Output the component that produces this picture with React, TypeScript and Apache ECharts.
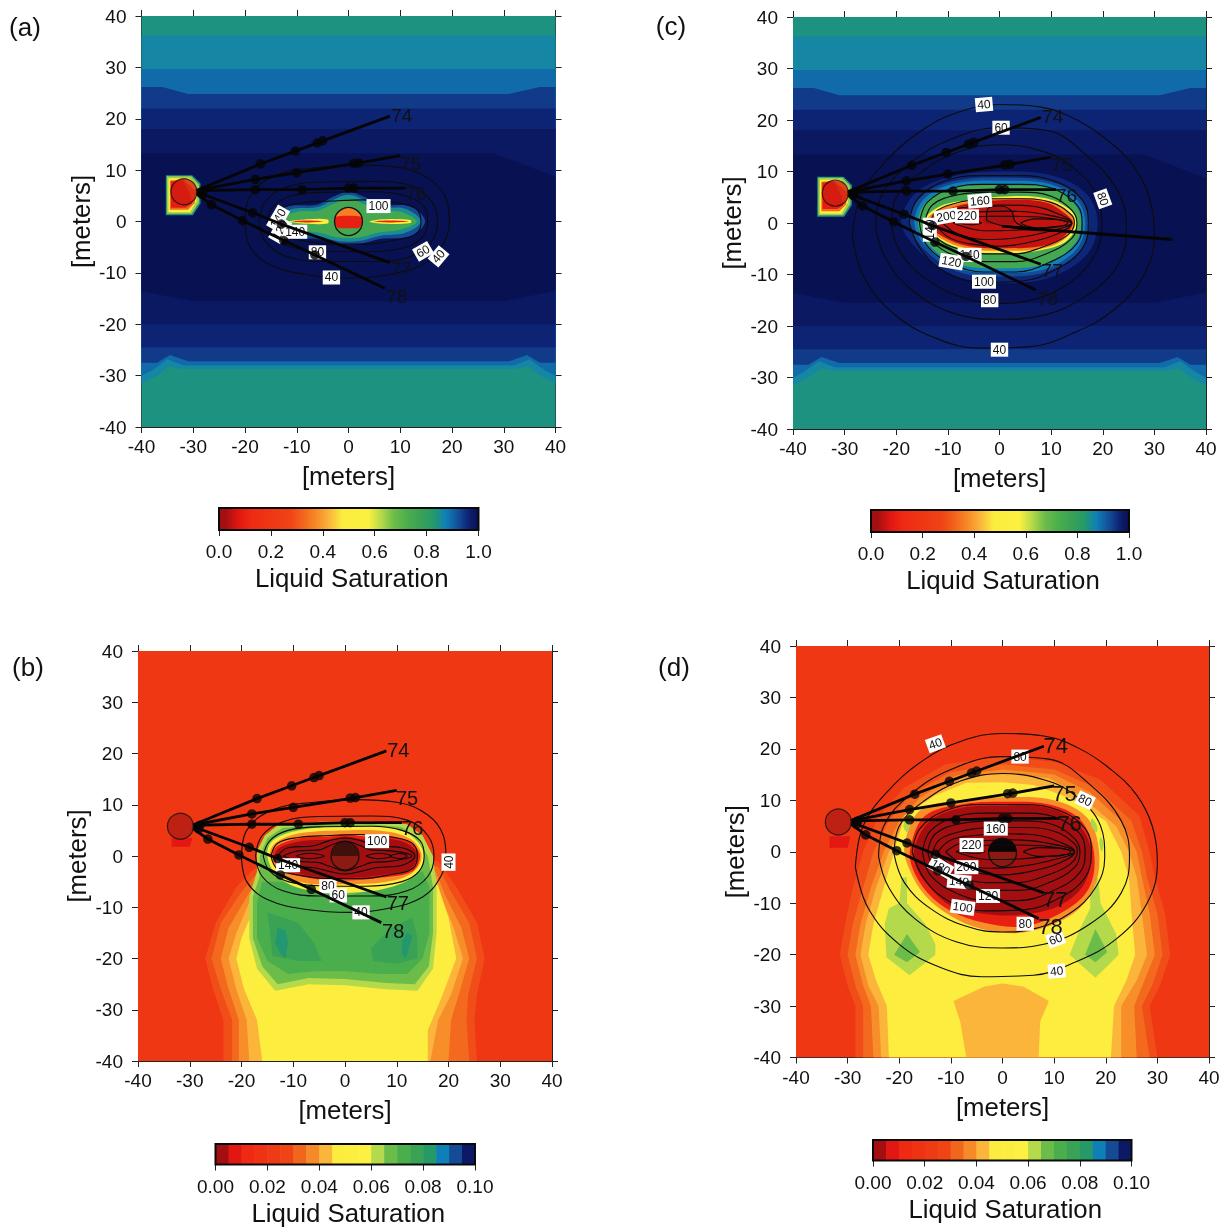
import React, { useEffect, useRef } from "react";
import * as echarts from "echarts";

type Pt = [number, number];
type Band = [number, Pt[]];
type Lab = [number, number, string, number];

const axisTicks = [-40, -30, -20, -10, 0, 10, 20, 30, 40];
const colourStops: [number, string][] = [
  [0, "#a30f10"], [0.025, "#a30f10"], [0.075, "#e21612"], [0.125, "#ee2a12"], [0.275, "#f04316"],
  [0.325, "#f2651d"], [0.375, "#f78a28"], [0.425, "#fbb53b"], [0.475, "#fcec3e"], [0.575, "#fcf040"],
  [0.625, "#b4d94a"], [0.675, "#6cbc4a"], [0.725, "#4bae4c"], [0.775, "#3aa255"], [0.825, "#259a68"],
  [0.875, "#0f7fb8"], [0.925, "#144a96"], [0.955, "#0e2a7c"], [0.975, "#0c1a66"], [1, "#081252"],
];
const stepEdges = [0, 0.005, 0.01, 0.015, 0.02, 0.025, 0.03, 0.035, 0.04, 0.045, 0.05, 0.055, 0.06, 0.065, 0.07, 0.075, 0.08, 0.085, 0.09, 0.095, 0.1];

const farField: Band[] = [
  [0.84, [[-40, 40], [40, 40], [40, -40], [-40, -40]]],
  [0.862, [[-40, 36.2], [40, 36.2], [40, -31.5], [37, -30], [34.7, -28.2], [32, -28.7], [-32, -28.7], [-34.7, -28.2], [-37, -30], [-40, -31.5]]],
  [0.895, [[-40, 29.7], [40, 29.7], [40, -30], [38, -29], [35, -26.8], [32, -28], [-32, -28], [-35, -26.8], [-38, -29], [-40, -30]]],
  [0.94, [[-40, 26.2], [-36, 26.2], [-31, 24.8], [31, 24.8], [37, 26.2], [40, 26.2], [40, -27.5], [37, -27.5], [34.5, -26], [31, -27.2], [-31, -27.2], [-34.5, -26], [-37, -27.5], [-40, -27.5]]],
  [0.962, [[-40, 22], [40, 22], [40, -24.5], [-40, -24.5]]],
  [0.98, [[-40, 18], [40, 18], [40, -20], [-40, -20]]],
  [1, [[-40, 13.3], [28, 13.3], [40, 8.7], [40, -13.5], [30, -15.5], [-30, -15.5], [-40, -13.6]]],
];
const injectorBox: Band[] = [
  [0.84, [[-35.3, 9], [-30.2, 9], [-28.6, 7.4], [-28.6, 3.5], [-30.1, 1.2], [-35.3, 1.2]]],
  [0.64, [[-35.1, 8.8], [-30.4, 8.8], [-28.9, 7.2], [-28.9, 3.7], [-30.3, 1.5], [-35.1, 1.5]]],
  [0.52, [[-34.8, 8.4], [-30.8, 8.4], [-29.3, 7], [-29.4, 3.9], [-30.6, 1.8], [-34.8, 1.8]]],
  [0.33, [[-34.5, 8], [-32, 8.2], [-29.6, 6], [-29.7, 3.6], [-31, 2.3], [-34.5, 2.3]]],
  [0.09, [[-34.3, 7.8], [-32, 8], [-30.5, 5], [-30.3, 3.4], [-31.4, 2.7], [-34.3, 2.7]]],
];
const plumeA: Band[] = [
  [0.925, [[-15, 0.5], [-12, 2.9], [-6, 3.3], [-3, 4.8], [0, 5.8], [3, 4.8], [6, 3.3], [12, 2.9], [14.8, 0], [12, -2.8], [6, -3.4], [2, -4.4], [-2, -4.4], [-6, -3.4], [-12, -3]]],
  [0.85, [[-14.4, 0.3], [-11, 2.4], [-6, 2.8], [-3, 4.2], [0, 5.2], [3, 4.2], [6, 2.8], [11, 2.5], [14, 0], [11, -2.2], [6, -2.8], [2, -3.8], [-2, -3.8], [-6, -2.8], [-11, -2.3]]],
  [0.75, [[-13.6, 0.2], [-10, 1.9], [-6, 2.1], [-3, 3.4], [0, 4.4], [3, 3.4], [6, 2.1], [10, 1.9], [13.2, 0], [10, -1.6], [6, -2.1], [2, -3.1], [-2, -3.1], [-6, -2.1], [-10, -1.7]]],
  [0.5, [[-11.5, 0], [-8, 0.45], [-4, 0.4], [-4, -0.4], [-8, -0.45]]],
  [0.5, [[4, 0], [7, 0.45], [12, 0.3], [12, -0.3], [7, -0.45]]],
  [0.1, [[-10.8, 0], [-8, 0.18], [-5, 0], [-8, -0.18]]],
  [0.1, [[5, 0], [8, 0.18], [11.5, 0], [8, -0.18]]],
  [0.36, [[-2.5, 0.8], [-1.6, 2.2], [0, 2.7], [1.6, 2.2], [2.5, 0.8]]],
  [0.1, [[-2.6, 0.9], [2.6, 0.9], [2.7, 0], [2.2, -1.1], [1, -1.3], [-1, -1.3], [-2.2, -1.1], [-2.7, 0]]],
];
const plumeC: Band[] = [
  [0.96, [[-19, 0], [-16, 6], [-8, 9.3], [2, 10], [11, 9], [17, 5.5], [19, 0], [17, -6], [10, -10.5], [1, -11.7], [-8, -10.5], [-15, -6]]],
  [0.925, [[-17.5, 0], [-15, 5.3], [-8, 8.3], [2, 8.8], [10, 8], [15.5, 5], [17.4, 0], [15.5, -5.5], [9, -9.5], [1, -10.4], [-8, -9.5], [-14.5, -5.2]]],
  [0.875, [[-16.5, 0], [-14.3, 5], [-8, 7.8], [2, 8.2], [10, 7.5], [15, 4.5], [16.6, 0], [15, -5], [9, -8.9], [1, -9.7], [-8, -8.9], [-14, -4.8]]],
  [0.75, [[-15.8, 0], [-13.8, 4.5], [-8, 7], [2, 7.3], [10, 6.8], [14.3, 4], [15.9, 0], [14.2, -4.5], [8.5, -8], [1, -8.8], [-8, -8], [-13.5, -4.4]]],
  [0.5, [[-14.8, 0], [-12, 3], [-7, 4.3], [2, 5.2], [9, 4.8], [13.5, 2.7], [15, 0], [13, -3.5], [8, -5.3], [1, -5.9], [-6, -5.4], [-12, -3]]],
  [0.36, [[-14.3, 0], [-12, 2.5], [-7, 4], [2, 4.8], [9, 4.4], [13, 2.4], [14.6, 0], [12.5, -3.2], [8, -5], [1, -5.4], [-6, -5], [-11.5, -2.9]]],
  [0.05, [[-14, 0], [-11.5, 2], [-7, 3.6], [2, 4.5], [9, 4], [12.5, 2], [14.2, 0], [12, -3], [8, -4.5], [1, -4.9], [-6, -4.5], [-11, -2.6]]],
  [0.03, [[-3, 0.1], [-2, 2.8], [0, 3.2], [2.5, 2.2], [2.8, 0], [0, -0.2]]],
];

const curtainB: Band[] = [
  [0.2, [[-40, 40], [40, 40], [40, -40], [-40, -40]]],
  [0.29, [[-16, -1], [-21, -6], [-25, -13], [-27, -20], [-25.5, -26], [-23.5, -32], [-23.5, -40], [25.5, -40], [25, -32], [25.5, -27], [27, -20], [25.5, -13], [21.5, -6], [18, -1]]],
  [0.33, [[-16, -2], [-20, -7], [-24, -13], [-25.8, -20], [-24, -26], [-21.8, -32], [-21.8, -40], [24, -40], [23.5, -32], [23.8, -27], [25.5, -20], [24, -13], [20.5, -7], [18, -2]]],
  [0.38, [[-16, -3], [-19, -8], [-22.5, -14], [-24, -20], [-22.5, -26], [-20.5, -32], [-20.5, -40], [20, -40], [20.5, -32], [22, -27], [24, -20], [22.5, -14], [19.5, -8], [17.5, -3]]],
  [0.425, [[-16, -4], [-18.5, -9], [-21, -15], [-22.5, -20], [-21, -26], [-19, -32], [-18.5, -40], [16.5, -40], [18, -32], [20.5, -27], [22.8, -20], [21, -14], [19, -9], [17.5, -4]]],
  [0.5, [[-15, -4], [-17.5, -10], [-20, -16], [-21, -20], [-19.5, -26], [-17, -32], [-16, -40], [16, -40], [16, -34], [18.5, -28], [21.5, -20], [20, -12], [18, -6], [17, -4]]],
  [0.625, [[-17, -3], [-18.5, -8], [-18.5, -16], [-17, -22], [-13.5, -26.3], [-7, -25], [0, -25.2], [8, -26], [14, -26.3], [17, -22], [17.7, -15], [17.7, -6], [17, 0], [15, 4], [12, 6.2], [5, 6.8], [-5, 6.7], [-13, 6], [-15.5, 4], [-17, 1]]],
  [0.675, [[-16.5, -4], [-17.8, -8], [-17.8, -16], [-16, -21.5], [-13, -25], [-7, -23.8], [0, -24], [8, -24.8], [13.5, -25], [16.2, -21.5], [17, -15], [17, -6], [16, 0], [14, 3.5], [11, 5.6], [5, 6.2], [-5, 6.1], [-12, 5.5], [-15, 3.5], [-16.5, 0]]],
  [0.725, [[-16, -5], [-17, -9], [-17, -16], [-15, -20.5], [-11, -23], [-6, -22.5], [0, -22.5], [7, -23], [12, -23], [15, -20], [16.3, -15], [16.3, -6], [15, -3], [0, -8], [-12, -5]]],
  [0.775, [[-15, -11], [-9, -13], [-6, -17], [-4.5, -20.5], [-9, -20.5], [-14, -19.5]]],
  [0.775, [[5, -18], [9, -14], [13, -12], [14, -16], [14, -20], [10, -21], [5.5, -20.5]]],
  [0.83, [[-13, -14], [-11.5, -14.5], [-11, -17], [-11.5, -20], [-12.5, -19], [-13.5, -17]]],
  [0.83, [[11, -16.5], [12, -15], [13, -15.5], [12.5, -17.5], [11.8, -20], [11, -19]]],
  [0.08, [[-33.5, 3.5], [-29.5, 3.5], [-30, 1.8], [-33.5, 1.8]]],
];
const plumeB: Band[] = [
  [0.5, [[-15, 0], [-14, 3], [-9, 5], [0, 5.8], [8, 5.6], [13, 3.8], [15.3, 0], [13.5, -3.8], [8, -6.3], [0, -7.2], [-8, -6.5], [-13, -4]]],
  [0.38, [[-14.5, 0], [-13.5, 2.5], [-9, 4.4], [0, 5], [8, 4.8], [12.8, 3.2], [14.8, 0], [13, -3.3], [8, -5], [0, -5.5], [-8, -5.2], [-12.5, -3.2]]],
  [0.1, [[-14, 0], [-13, 2], [-8, 3.6], [-3, 3.8], [0, 4.3], [4, 3.8], [9, 3.8], [13, 2.4], [14.5, 0], [13, -3], [7, -4.2], [0, -4.8], [-7, -4.3], [-12, -2.8]]],
  [0.025, [[-13.5, 0], [-12.5, 1.7], [-8, 3], [-3, 3.2], [0, 3.8], [4, 3.2], [9, 3.3], [12.7, 2], [14, 0], [12.5, -2.6], [7, -3.7], [0, -4.3], [-7, -3.8], [-11.5, -2.4]]],
];
const curtainD: Band[] = [
  [0.2, [[-40, 40], [40, 40], [40, -40], [-40, -40]]],
  [0.29, [[-27, 0], [-29, -7], [-30.5, -14], [-31.5, -20], [-30, -26], [-28.5, -30], [-28.5, -40], [30, -40], [28.5, -30], [30.5, -26], [32.5, -20], [31.5, -12], [29.5, -5], [28.5, 0], [26.5, 7], [19, 14], [10, 17.5], [0, 18.5], [-11, 17], [-19, 12.5], [-24, 7]]],
  [0.33, [[-25, 0], [-27, -7], [-29, -14], [-30, -20], [-28.5, -26], [-27, -30], [-27, -40], [28.5, -40], [27, -30], [29, -26], [31, -20], [30, -12], [28, -5], [27, 0], [25, 6], [18, 12.5], [10, 16], [0, 17], [-10, 15.5], [-18, 11], [-22, 6]]],
  [0.38, [[-23, 0], [-25.5, -7], [-27.5, -14], [-28.5, -20], [-27, -26], [-25.5, -30], [-25, -40], [26, -40], [25.5, -30], [27.5, -25], [29.5, -20], [28.5, -12], [27, -5], [26, 0], [23, 6], [17, 11.5], [10, 15], [0, 16], [-9, 14.8], [-16, 10.5], [-20, 6]]],
  [0.425, [[-22, 0], [-24.5, -7], [-26.5, -14], [-27.5, -20], [-26, -26], [-24, -30], [-23.5, -40], [23, -40], [23, -30], [26, -25], [28, -20], [27, -12], [26, -5], [24.5, 0], [22, 5], [15, 11], [9, 14.3], [0, 15.3], [-8, 14.2], [-15, 10], [-19, 6]]],
  [0.5, [[-21, 0], [-23, -7], [-25, -14], [-26, -20], [-24.5, -25], [-22.4, -30], [-22, -40], [21, -40], [21.6, -30], [24, -25], [25.7, -20], [25, -12], [24.5, -5], [23, 0], [20, 6], [13, 10.5], [6, 13], [0, 13.5], [-7, 13.4], [-13, 11], [-19, 7]]],
  [0.425, [[-9.5, -29], [-3.5, -26.2], [0, -25.6], [4, -26.2], [9, -29], [7.3, -33], [7, -40], [-7, -40], [-8.2, -33]]],
  [0.625, [[-22, -11], [-20, -10], [-19.5, -5], [-18.5, -5], [-18.5, -10], [-15, -14], [-13, -18], [-13, -20], [-18, -24], [-22.5, -20.5], [-22.8, -14]]],
  [0.625, [[17, -5], [18.5, -5], [19, -10], [22, -16], [22.5, -20], [18, -24.5], [13, -20], [15, -15], [17, -11]]],
  [0.675, [[-18.5, -16], [-16, -19.5], [-18.5, -21.5], [-21, -20]]],
  [0.675, [[18, -15], [20.3, -19.5], [18, -21.5], [16, -20]]],
  [0.08, [[-33.5, 3], [-29.5, 3], [-30, 0.8], [-33.5, 0.8]]],
];
const plumeD: Band[] = [
  [0.38, [[-19, 1], [-16, 8], [-8, 10], [0, 10.6], [10, 10], [16.5, 6.5], [18.7, 0], [17.7, -7], [13, -12.5], [4, -15.7], [-4, -15], [-10, -12.5], [-15, -8.5], [-18, -3.5]]],
  [0.1, [[-17.8, 1], [-15, 7], [-8, 9.2], [0, 9.7], [9, 9.2], [15, 6.3], [17.7, 0], [16.8, -7], [12, -11.5], [4, -14.5], [-4, -13.7], [-10, -11.5], [-14.5, -8], [-17.5, -3]]],
  [0.025, [[-17, 1], [-14, 6], [-8, 8.5], [0, 9], [8, 8.7], [14, 6], [17, 1], [16, -6], [11, -10.5], [3, -12.3], [-4, -12], [-10, -10.5], [-14, -7], [-16.7, -3]]],
  [0.63, [[17.3, 6.5], [18.3, 5], [18.2, 3.8], [17.2, 5]]],
  [0.63, [[19, 2.8], [19.6, 1.5], [19.2, 0], [18.8, 1.5]]],
  [0.63, [[-18.8, 6], [-18, 5.2], [-18.4, 3.8], [-19.2, 4.8]]],
];

const contoursEarly: Pt[][] = [
  [[-20, 0], [-19, 5], [-14, 9], [-6, 10.5], [2, 11], [10, 10.5], [16, 8], [19, 4], [19.5, 0], [18.5, -4], [15, -8], [8, -10.3], [1, -11], [-7, -10.5], [-15, -8.5], [-19, -5], [-20, 0]],
  [[-17.3, 0], [-16, 4], [-12, 6.7], [-5, 7.7], [5, 7.8], [12, 7], [16, 4], [17.2, 0], [16, -4], [12, -6.8], [5, -7.8], [-5, -7.8], [-12, -6.8], [-16, -4], [-17.3, 0]],
  [[-15.8, 0], [-14.5, 3], [-11, 5], [-4, 5.7], [5, 5.8], [11, 5], [14.5, 3], [15.3, 0], [14.3, -3], [11, -5], [4, -5.9], [-5, -5.8], [-11, -5], [-14.5, -3], [-15.8, 0]],
  [[-14.3, 0], [-13, 2.5], [-9, 3.6], [-3, 4], [3, 4.2], [9, 3.7], [13, 2.5], [14, 0], [13, -2.5], [9, -3.6], [3, -4.4], [-3, -4.4], [-9, -3.7], [-13, -2.6], [-14.3, 0]],
  [[-13, 0], [-11, 1.6], [-6, 2], [-3, 3], [0, 3.5], [3, 3], [6, 2], [11, 1.6], [13.5, 0], [11, -1.8], [6, -2.3], [3, -3], [0, -3.5], [-3, -3], [-6, -2.3], [-11, -1.8], [-13, 0]],
  [[-12, 0], [-9, 1], [-5, 1.2], [-3, 2], [0, 2.9], [3, 2], [5, 1.2], [9, 1], [13, 0], [9, -1], [5, -1.3], [3, -2], [0, -2.9], [-3, -2], [-5, -1.3], [-9, -1], [-12, 0]],
  [[-9.5, 0], [-7, 0.55], [-4, 0], [-7, -0.55], [-9.5, 0]],
  [[4, 0], [6.5, 0.55], [9, 0], [6.5, -0.55], [4, 0]],
  [[8.5, 0], [10.5, 0.5], [12, 0], [10.5, -0.5], [8.5, 0]],
];
const contoursLate: Pt[][] = [
  [[-28.5, -3], [-27, 5], [-22, 12], [-15, 18], [-8, 21.5], [0, 23], [8, 22.5], [15, 20], [21, 16], [26, 11], [29, 5], [30, -2], [28, -10], [22, -17], [14, -21.5], [6, -24], [-4, -24.3], [-12, -22.5], [-20, -18], [-26, -11], [-28.5, -3]],
  [[-24, -1], [-23, 5], [-18, 11], [-10, 16], [0, 18.5], [9, 18], [17, 13], [23, 6], [24.6, -1], [23, -8], [17, -14], [8, -18], [0, -18.7], [-9, -17.5], [-17, -13], [-22, -7], [-24, -1]],
  [[-21, -0.5], [-20, 5], [-15, 10], [-8, 13.8], [0, 15.2], [8, 14], [14, 11], [19, 5], [19.8, -1], [18, -7], [13, -12], [6, -15], [0, -15.6], [-7, -14.5], [-14, -11], [-19, -6], [-21, -0.5]],
  [[-17.5, 0], [-16, 4.5], [-11, 8], [-4, 9.2], [4, 9.2], [11, 8], [16, 4.5], [17.2, 0], [16, -5], [11, -9], [4, -11.3], [-3, -11.5], [-10, -9.8], [-15, -5.5], [-17.5, 0]],
  [[-15.5, 0], [-14, 4], [-9, 6.8], [-3, 7.5], [4, 7.5], [10, 6.8], [15, 3.5], [16, 0], [15, -4], [10, -7.5], [3, -9.5], [-3, -9.5], [-9, -8], [-14, -4.5], [-15.5, 0]],
  [[-14.5, 0], [-13, 3.5], [-8, 5.5], [-2, 6], [4, 6], [10, 5.2], [14, 2.5], [15, 0], [14, -3], [9, -6], [3, -7.5], [-3, -7.5], [-9, -6.2], [-13, -3.5], [-14.5, 0]],
  [[-13.5, 0], [-12, 2.5], [-7, 4.2], [-2, 4.7], [4, 4.7], [10, 4], [14, 1.5], [14.5, 0], [13, -2.5], [8, -4.8], [3, -6], [-3, -6], [-8, -5], [-12, -3], [-13.5, 0]],
  [[-12.5, 0], [-10, 2.3], [-5, 3.2], [0, 3.5], [6, 3.3], [12, 1.5], [14, 0], [11, -2.2], [6, -3.7], [0, -4.5], [-6, -4], [-10, -2.7], [-12.5, 0]],
  [[-11, 0], [-8, 1.7], [-3, 2.2], [2, 2.3], [8, 1.8], [14, 0], [9, -1.8], [3, -2.9], [-3, -3.2], [-8, -2.2], [-11, 0]],
  [[-9, 0], [-6, 0.9], [-2, 1.3], [3, 1.3], [9, 1], [14, -0.1], [8, -1], [3, -1.4], [-3, -1.5], [-6, -1], [-9, 0]],
  [[4, 0], [7, 0.8], [11, 0.7], [13.2, 0], [11, -0.8], [7, -0.9], [4, 0]],
  [[-8, 0], [-5.5, 0.35], [-3.5, 0], [-5.5, -0.35], [-8, 0]],
];
const blobC: Pt[] = [[-2.5, 0.5], [-2.4, 2.5], [0, 3.3], [2.3, 2.4], [3, 0.3], [5, -0.8], [10, -1.3], [14, -1.6], [5, -1.3], [0, -0.4], [-2.5, 0.5]];

const well74: Pt[] = [[-29.5, 6], [-17, 11.2], [-10.3, 13.7], [-5.5, 15.5], [8, 20.5]];
const well75: Pt[] = [[-29.5, 6], [-18, 8.2], [-10, 9.5], [1.5, 11.3], [10, 12.8]];
const well76: Pt[] = [[-29.5, 6], [-18, 6.2], [-9, 6.2], [0.5, 6.5], [11, 6.5]];
const well77: Pt[] = [[-29.5, 5.8], [-18.5, 1.7], [-13, -0.5], [8, -8]];
const well78: Pt[] = [[-29.5, 5.5], [-26.5, 3.3], [-20.5, 0.2], [-12.5, -3.7], [-6.5, -6.5], [7, -13]];
const streakC: Pt[] = [[0.5, -0.6], [14, -1.7], [33.5, -3.2]];
const wellDots: Pt[] = [
  [-17, 11.2], [-10.3, 13.7], [-6, 15.3], [-5, 15.7], [-18, 8.2], [-10, 9.5], [1, 11.3], [2, 11.4],
  [-18, 6.2], [-9, 6.2], [0, 6.5], [1, 6.5], [-18.5, 1.7], [-13, -0.5], [-26.5, 3.3], [-20.5, 0.2],
  [-12.5, -3.7], [-6.5, -6.5], [-28.3, 5.3], [-28, 6],
];
const wellNames: Lab[] = [[10.3, 20.6, "74", 0], [12, 11.3, "75", 0], [13, 5.4, "76", 0], [10.2, -9.2, "77", 0], [9.3, -14.6, "78", 0]];

const labelsA: Lab[] = [[5.8, 3, "100", 0], [14.4, -5.8, "60", 30], [17.4, -6.8, "40", 50], [-6, -6, "80", 0], [-3.3, -10.9, "40", 0], [-13.6, 0.6, "140", 60], [-13.2, -1.7, "120", 60], [-10.3, -2, "140", 0]];
const labelsB: Lab[] = [[6.2, 2.9, "100", 0], [20, -1.2, "40", 90], [3.1, -11, "40", 0], [-3.3, -5.9, "80", 0], [-1.3, -7.7, "60", 0], [-11, -1.8, "140", 0]];
const labelsC: Lab[] = [[-3, 23, "40", 5], [0.3, 18.5, "60", 0], [20, 4.7, "80", -70], [-3.8, 4.3, "160", 5], [-10.3, 1.3, "200", 10], [-6.3, 1.3, "220", 0], [-13.5, -1.3, "140", 90], [-5.8, -6.2, "140", 0], [-9.3, -7.5, "120", -10], [-3, -11.4, "100", 0], [-1.9, -15, "80", 0], [0, -24.6, "40", 0]];
const labelsD: Lab[] = [[-13, 21, "40", 20], [3.4, 18.5, "80", 0], [16, 10, "80", -25], [-1.3, 4.5, "160", 0], [-6, 1.3, "220", 0], [-12, -3, "180", -30], [-7, -3, "200", 0], [-8.4, -5.8, "140", -5], [-2.8, -8.6, "120", 0], [-7.7, -10.8, "100", -8], [4.4, -14, "80", 0], [10.3, -17, "60", 20], [10.5, -23.2, "40", 5]];

const FONT = "Liberation Sans";

function colorAt(t: number): string {
  for (let i = 1; i < colourStops.length; i++) {
    const [a, ca] = colourStops[i - 1];
    const [b, cb] = colourStops[i];
    if (t <= b) {
      const f = (t - a) / (b - a);
      const p = (c: string, k: number) => parseInt(c.slice(k, k + 2), 16);
      const m = (k: number) => Math.round(p(ca, k) + (p(cb, k) - p(ca, k)) * f);
      return `rgb(${m(1)},${m(3)},${m(5)})`;
    }
  }
  return colourStops[colourStops.length - 1][1];
}

function App() {
  const ref = useRef<HTMLDivElement>(null);
  useEffect(() => {
    const chart = echarts.init(ref.current!, undefined, { renderer: "svg" });
    const grid: any[] = [];
    const xAxis: any[] = [];
    const yAxis: any[] = [];
    const series: any[] = [];

    const bandSeries = (bands: Band[], xi: number, yi: number, smooth: number, z: number) => ({
      type: "custom", xAxisIndex: xi, yAxisIndex: yi, z, clip: true, silent: true,
      data: bands.map(() => [0, 0]),
      renderItem: (p: any, api: any) => {
        const b = bands[p.dataIndex];
        return { type: "polygon", shape: { points: b[1].map((q) => api.coord(q)), smooth }, style: { fill: colorAt(b[0]), stroke: null } };
      },
    });
    const textSeries = (labs: Lab[], xi: number, yi: number, fontSize: number, box: boolean, z: number) => ({
      type: "custom", xAxisIndex: xi, yAxisIndex: yi, z, clip: false, silent: true,
      data: labs.map((l) => [l[0], l[1]]),
      renderItem: (p: any, api: any) => {
        const l = labs[p.dataIndex];
        const c = api.coord([l[0], l[1]]);
        return {
          type: "text", x: c[0], y: c[1], rotation: (l[3] * Math.PI) / 180,
          style: { text: l[2], fontFamily: FONT, fontSize, fill: "#111", align: "center", verticalAlign: "middle",
            backgroundColor: box ? "#fff" : undefined, padding: box ? [1, 2] : 0 },
        };
      },
    });

    const panel = (cfg: any) => {
      const xi = xAxis.length;
      const yi = yAxis.length;
      const g = grid.length;
      grid.push({ left: cfg.l, top: cfg.t, width: cfg.w, height: cfg.h, show: false });
      const common = { type: "value", min: -40, max: 40, interval: 10, gridIndex: g,
        axisLine: { show: true, onZero: false, lineStyle: { color: "#222", width: 1 } },
        axisTick: { show: true, length: 6, lineStyle: { color: "#222", width: 1 } }, splitLine: { show: false } };
      const lab = { color: "#111", fontFamily: FONT, fontSize: 19 };
      const nameStyle = { color: "#111", fontFamily: FONT, fontSize: 25.8 };
      xAxis.push({ ...common, position: "bottom", name: "[meters]", nameLocation: "middle", nameGap: 36, nameTextStyle: nameStyle,
        axisLabel: { ...lab, margin: 10, customValues: axisTicks, showMinLabel: true, showMaxLabel: true } });
      xAxis.push({ ...common, position: "top", axisLabel: { show: false } });
      yAxis.push({ ...common, position: "left", name: "[meters]", nameLocation: "middle", nameGap: 48, nameTextStyle: nameStyle,
        axisLabel: { ...lab, margin: 15 } });
      yAxis.push({ ...common, position: "right", axisLabel: { show: false } });

      series.push(bandSeries(cfg.flat, xi, yi, 0, 1));
      series.push(bandSeries(cfg.round, xi, yi, 0.35, 2));
      cfg.contours.forEach((pts: Pt[]) => {
        series.push({ type: "line", xAxisIndex: xi, yAxisIndex: yi, data: pts, smooth: 0.4, showSymbol: false, z: 3, silent: true,
          lineStyle: { color: "#0c0c0c", width: 1.1 } });
      });
      series.push(textSeries(cfg.labels, xi, yi, 12, true, 4));
      cfg.wells.forEach((pts: Pt[]) => {
        series.push({ type: "line", xAxisIndex: xi, yAxisIndex: yi, data: pts, showSymbol: false, z: 5, silent: true,
          lineStyle: { color: "#050505", width: 2.8 } });
      });
      series.push({ type: "scatter", xAxisIndex: xi, yAxisIndex: yi, data: wellDots, symbolSize: 9.5, z: 6, silent: true, itemStyle: { color: "#050505" } });
      series.push({ type: "scatter", xAxisIndex: xi, yAxisIndex: yi, data: [[-31.8, 5.8]], symbolSize: 26, z: 6, silent: true,
        itemStyle: { color: cfg.injector, borderColor: "#111", borderWidth: 1.2 } });
      series.push({
        type: "custom", xAxisIndex: xi, yAxisIndex: yi, z: 3, silent: true, data: cfg.bore ? [[0, 0]] : [],
        renderItem: (_p: any, api: any) => {
          const c = api.coord([0, 0]);
          const r = api.size([2.7, 0])[0];
          return { type: "group", children: [
            { type: "circle", shape: { cx: c[0], cy: c[1], r }, style: { fill: cfg.bore.fill, stroke: "#111", lineWidth: 1.3 } },
            ...(cfg.bore.cap ? [{ type: "sector", shape: { cx: c[0], cy: c[1], r, r0: 0, startAngle: Math.PI, endAngle: 2 * Math.PI }, style: { fill: cfg.bore.cap } }] : []),
          ] };
        },
      });
      series.push(textSeries(wellNames, xi, yi, cfg.nameSize, false, 7));
    };

    const colorbar = (cfg: any) => {
      const xi = xAxis.length;
      const yi = yAxis.length;
      const g = grid.length;
      grid.push({ left: cfg.l, top: cfg.t, width: cfg.w, height: cfg.h, show: false });
      xAxis.push({ type: "value", gridIndex: g, min: 0, max: cfg.max, interval: cfg.max / 5, position: "bottom",
        name: "Liquid Saturation", nameLocation: "middle", nameGap: 35,
        nameTextStyle: { color: "#111", fontFamily: FONT, fontSize: 25.8, padding: [0, 0, 0, 6] },
        axisLine: { show: false }, splitLine: { show: false },
        axisTick: { show: true, length: 6, lineStyle: { color: "#222", width: 1 } },
        axisLabel: { color: "#111", fontFamily: FONT, fontSize: 19, margin: 12, formatter: (v: number) => v.toFixed(cfg.digits) } });
      yAxis.push({ type: "value", gridIndex: g, min: 0, max: 1, show: false });
      const stops = colourStops.map(([offset, color]) => ({ offset, color }));
      if (cfg.stepped) {
        series.push({ type: "custom", xAxisIndex: xi, yAxisIndex: yi, z: 1, silent: true,
          data: stepEdges.slice(0, -1).map((e, i) => [e, stepEdges[i + 1]]),
          renderItem: (_p: any, api: any) => {
            const a = api.coord([api.value(0), 1]);
            const b = api.coord([api.value(1), 0]);
            return { type: "rect", shape: { x: a[0], y: a[1], width: b[0] - a[0] + 0.5, height: b[1] - a[1] },
              style: { fill: colorAt(((api.value(0) + api.value(1)) / 2) * 10) } };
          } });
      } else {
        series.push({ type: "custom", xAxisIndex: xi, yAxisIndex: yi, z: 1, silent: true, data: [[0, 1]],
          renderItem: (p: any) => ({ type: "rect", shape: { x: p.coordSys.x, y: p.coordSys.y, width: p.coordSys.width, height: p.coordSys.height },
            style: { fill: new echarts.graphic.LinearGradient(0, 0, 1, 0, stops) } }) });
      }
      series.push({ type: "custom", xAxisIndex: xi, yAxisIndex: yi, z: 2, silent: true, data: [[0, 1]],
        renderItem: (p: any) => ({ type: "rect", shape: { x: p.coordSys.x, y: p.coordSys.y, width: p.coordSys.width, height: p.coordSys.height },
          style: { fill: "none", stroke: "#0a0a0a", lineWidth: 2 } }) });
    };

    panel({ l: 141.5, t: 16, w: 414, h: 411, flat: [...farField, ...injectorBox], round: plumeA, contours: contoursEarly.slice(0, 4),
      labels: labelsA, wells: [well74, well75, well76, well77, well78], injector: "#d21d12", nameSize: 19, bore: { fill: "rgba(0,0,0,0)" } });
    panel({ l: 793, t: 17, w: 413, h: 412, flat: [...farField, ...injectorBox], round: plumeC, contours: [...contoursLate, blobC],
      labels: labelsC, wells: [well74, well75, well76, well77, well78, streakC], injector: "#d21d12", nameSize: 19, bore: null });
    panel({ l: 138, t: 651, w: 414, h: 410, flat: curtainB, round: plumeB, contours: contoursEarly, labels: labelsB,
      wells: [well74, well75, well76, well77, well78], injector: "#b01c14", nameSize: 20, bore: { fill: "#8a1a12", cap: "#40100c" } });
    panel({ l: 796, t: 646, w: 413, h: 411.5, flat: curtainD, round: plumeD, contours: contoursLate, labels: labelsD,
      wells: [well74, well75, well76, well77, well78], injector: "#b01c14", nameSize: 22, bore: { fill: "#8a1a12", cap: "#0a0606" } });

    colorbar({ l: 219, t: 508, w: 259.5, h: 22, max: 1, digits: 1, stepped: false });
    colorbar({ l: 871, t: 510, w: 258, h: 22, max: 1, digits: 1, stepped: false });
    colorbar({ l: 215.5, t: 1144, w: 259.5, h: 20.5, max: 0.1, digits: 2, stepped: true });
    colorbar({ l: 873, t: 1140, w: 258.5, h: 20.5, max: 0.1, digits: 2, stepped: true });

    const letter = (text: string, x: number, y: number) => ({ type: "text", x, y,
      style: { text, fontFamily: FONT, fontSize: 26, fill: "#111", align: "center", verticalAlign: "middle" } });

    chart.setOption({
      animation: false,
      backgroundColor: "#ffffff",
      grid, xAxis, yAxis, series,
      graphic: [letter("(a)", 25, 27), letter("(c)", 671, 26), letter("(b)", 28, 667), letter("(d)", 674, 667)],
    });
    return () => chart.dispose();
  }, []);
  return <div ref={ref} style={{ position: "absolute", left: 0, top: 0, width: 1228, height: 1228, filter: "blur(0.4px)" }} />;
}

export default App;
